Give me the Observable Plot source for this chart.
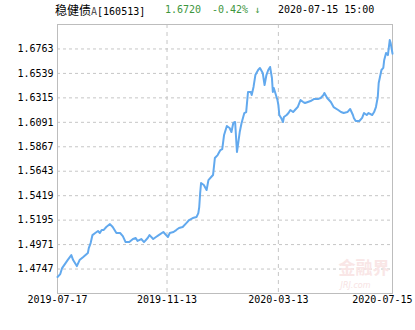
<!DOCTYPE html>
<html>
<head>
<meta charset="utf-8">
<script src="https://cdn.jsdelivr.net/npm/d3@7"></script>
<script src="https://cdn.jsdelivr.net/npm/@observablehq/plot@0.6"></script>
<style>
  html, body { margin: 0; padding: 0; background: #fff; }
  #wrap { position: relative; width: 415px; height: 330px; overflow: hidden; }
  #title { position: relative; height: 20px; width: 415px; font-family: "DejaVu Sans Mono", monospace; font-size: 10px; }
  #title span { position: absolute; top: 3px; line-height: 14px; white-space: nowrap; }
  .cjk { font-family: "Noto Sans CJK SC", sans-serif; font-size: 12px; }
  .green { color: #3d963d; }
</style>
</head>
<body>
<div id="wrap">
  <div id="title">
    <span style="left:55px;"><span class="cjk" style="position:static">稳健债</span><span style="position:static;color:#555">A</span><span style="position:static">[160513]</span></span>
    <span class="green" style="left:165px;">1.6720</span>
    <span class="green" style="left:212px;">-0.42% ↓</span>
    <span style="left:278px;">2020-07-15 15:00</span>
  </div>
  <div id="chart"></div>
</div>
<script>
const dates = [
  "2019-07-17","2019-07-20","2019-07-22","2019-07-28","2019-08-01","2019-08-03","2019-08-07","2019-08-10",
  "2019-08-14","2019-08-19","2019-08-20","2019-08-22","2019-08-24","2019-08-27","2019-08-30","2019-09-01",
  "2019-09-03","2019-09-05","2019-09-08","2019-09-12","2019-09-15","2019-09-19","2019-09-23","2019-09-26",
  "2019-09-29","2019-10-03","2019-10-07","2019-10-10","2019-10-12","2019-10-16","2019-10-19","2019-10-23",
  "2019-10-25","2019-10-29","2019-11-01","2019-11-04","2019-11-09","2019-11-10","2019-11-14","2019-11-16",
  "2019-11-20","2019-11-23","2019-11-26","2019-11-30","2019-12-04","2019-12-07","2019-12-11","2019-12-15",
  "2019-12-17","2019-12-18","2019-12-19","2019-12-20","2019-12-23","2019-12-26","2019-12-28","2019-12-31",
  "2020-01-02","2020-01-04","2020-01-07","2020-01-10","2020-01-12","2020-01-14","2020-01-17","2020-01-20",
  "2020-01-22","2020-01-24","2020-01-26","2020-01-28","2020-01-31","2020-02-02","2020-02-05","2020-02-07",
  "2020-02-09","2020-02-12","2020-02-13","2020-02-15","2020-02-17","2020-02-20","2020-02-22","2020-02-25",
  "2020-02-27","2020-02-29","2020-03-02","2020-03-04","2020-03-06","2020-03-07","2020-03-08","2020-03-12",
  "2020-03-13","2020-03-14","2020-03-16","2020-03-18","2020-03-19","2020-03-22","2020-03-24","2020-03-26",
  "2020-03-29","2020-03-31","2020-04-03","2020-04-06","2020-04-09","2020-04-11","2020-04-14","2020-04-17",
  "2020-04-21","2020-04-25","2020-04-28","2020-05-01","2020-05-02","2020-05-05","2020-05-09","2020-05-12",
  "2020-05-17","2020-05-20","2020-05-23","2020-05-27","2020-05-30","2020-06-02","2020-06-03","2020-06-05",
  "2020-06-09","2020-06-12","2020-06-14","2020-06-17","2020-06-19","2020-06-23","2020-06-25","2020-06-27",
  "2020-06-29","2020-06-30","2020-07-03","2020-07-05","2020-07-06","2020-07-08","2020-07-10","2020-07-12",
  "2020-07-13","2020-07-15"
];
const navs = [
  1.4674,1.4701,1.4756,1.4829,1.4875,1.4829,1.4774,1.4829,
  1.4857,1.4894,1.4939,1.4985,1.5058,1.5077,1.5095,1.5077,
  1.5104,1.5104,1.5132,1.5159,1.5132,1.5077,1.5077,1.5049,
  1.4994,1.4994,1.5022,1.5031,1.5004,1.5022,1.4994,1.5031,
  1.5058,1.5022,1.5040,1.5058,1.5086,1.5077,1.5040,1.5077,
  1.5086,1.5104,1.5123,1.5132,1.5168,1.5196,1.5214,1.5223,
  1.5260,1.5315,1.5443,1.5535,1.5517,1.5471,1.5562,1.5590,
  1.5608,1.5764,1.5791,1.5837,1.5846,1.5975,1.6057,1.6039,
  1.6002,1.6085,1.6094,1.5819,1.6002,1.6085,1.6176,1.6185,
  1.6369,1.6369,1.6341,1.6415,1.6524,1.6570,1.6589,1.6543,
  1.6433,1.6524,1.6570,1.6598,1.6497,1.6369,1.6405,1.6295,
  1.6250,1.6158,1.6131,1.6094,1.6140,1.6158,1.6176,1.6204,
  1.6185,1.6204,1.6231,1.6295,1.6277,1.6268,1.6277,1.6286,
  1.6305,1.6305,1.6314,1.6341,1.6360,1.6314,1.6277,1.6231,
  1.6204,1.6185,1.6176,1.6185,1.6213,1.6158,1.6131,1.6103,
  1.6103,1.6131,1.6176,1.6158,1.6176,1.6158,1.6185,1.6231,
  1.6323,1.6451,1.6570,1.6589,1.6662,1.6726,1.6707,1.6845,
  1.6817,1.6720
];
const yTicks = [1.4747,1.4971,1.5195,1.5419,1.5643,1.5867,1.6091,1.6315,1.6539,1.6763];
const yDomain = [1.4523, 1.6987];
const xTicks = ["2019-07-17","2019-11-13","2020-03-13","2020-07-15"];

const data = dates.map((d, i) => ({date: new Date(d), nav: navs[i]}));
const xt = xTicks.map(d => new Date(d));
const gridCol = "#c6c6c6";

const chart = Plot.plot({
  width: 415,
  height: 310,
  marginTop: 4,
  marginBottom: 37,
  marginLeft: 57,
  marginRight: 23,
  x: {type: "utc", domain: [xt[0], xt[xt.length - 1]], axis: null},
  y: {domain: yDomain, axis: null},
  style: {fontFamily: "DejaVu Sans Mono, monospace", fontSize: "10px", color: "#000", background: "#fff", overflow: "visible"},
  marks: [
    Plot.gridY(yTicks, {stroke: gridCol, strokeOpacity: 1, strokeDasharray: "3,3"}),
    Plot.gridX(xt.slice(1, xt.length - 1), {stroke: gridCol, strokeOpacity: 1, strokeDasharray: "4,4"}),
    Plot.text(["金融界"], {frameAnchor: "bottom-right", dx: -3, dy: -20, text: d => d, fill: "#f9e6e6", fontSize: 17, fontWeight: "bold", fontFamily: "Noto Sans CJK SC", textAnchor: "end"}),
    Plot.text(["JRJ.com"], {frameAnchor: "bottom-right", dx: -22, dy: -6, text: d => d, fill: "#f7e2e2", fontSize: 8, fontStyle: "italic", fontFamily: "DejaVu Sans", textAnchor: "end"}),
    Plot.frame({stroke: "#bdbdbd"}),
    Plot.axisY(yTicks, {label: null, tickSize: 0, tickPadding: 4, tickFormat: d => d.toFixed(4), fill: "#000"}),
    Plot.text(xt.slice(0, xt.length - 1), {x: d => d, frameAnchor: "bottom", dy: 9, text: (d, i) => xTicks[i], fill: "#000"}),
    Plot.text([xt[xt.length - 1]], {x: d => d, frameAnchor: "bottom", dy: 9, dx: 20, textAnchor: "end", text: () => xTicks[xTicks.length - 1], fill: "#000"}),
    Plot.lineY(data, {x: "date", y: "nav", stroke: "#62a9ee", strokeWidth: 2, strokeLinejoin: "round"})
  ]
});
document.getElementById("chart").appendChild(chart);
</script>
</body>
</html>
